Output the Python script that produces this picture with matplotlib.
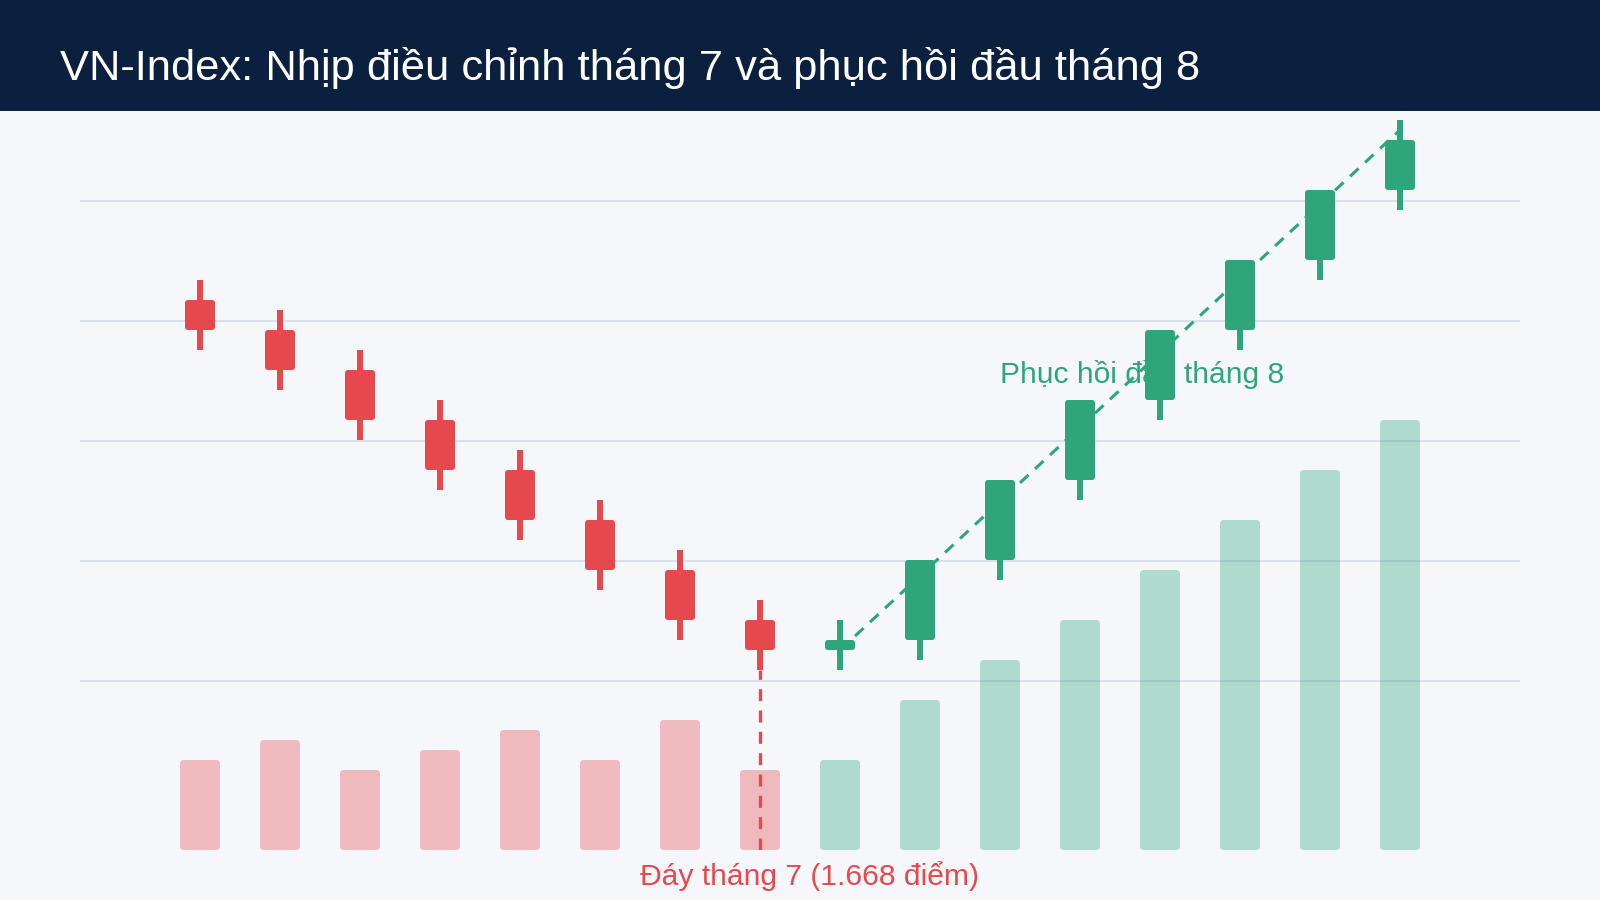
import matplotlib
matplotlib.use("Agg")
import matplotlib.pyplot as plt
import matplotlib.transforms as mtransforms
from matplotlib.patches import FancyBboxPatch, Rectangle

plt.rcParams['font.family'] = ['Liberation Sans', 'DejaVu Sans']

# --- data ---
title = "VN-Index: Nhịp điều chỉnh tháng 7 và phục hồi đầu tháng 8"
opens = [1742, 1736, 1728, 1718, 1708, 1698, 1688, 1678, 1672, 1674, 1690, 1706, 1722, 1736, 1750, 1764]
closes = [1736, 1728, 1718, 1708, 1698, 1688, 1678, 1672, 1674, 1690, 1706, 1722, 1736, 1750, 1764, 1774]
highs = [1746, 1740, 1732, 1722, 1712, 1702, 1692, 1682, 1678, 1690, 1706, 1722, 1736, 1750, 1764, 1778]
lows = [1732, 1724, 1714, 1704, 1694, 1684, 1674, 1668, 1668, 1670, 1686, 1702, 1718, 1732, 1746, 1760]
volumes = [900, 1100, 800, 1000, 1200, 900, 1300, 800, 900, 1500, 1900, 2300, 2800, 3300, 3800, 4300]
grid_levels = [1665.8, 1689.8, 1713.8, 1737.8, 1761.8]
trend_idx = [8, 15]
trend_vals = [1672, 1776]
bottom_idx = 7
bottom_label = "Đáy tháng 7 (1.668 điểm)"
recovery_label = "Phục hồi đầu tháng 8"

RED = "#e5484d"
GREEN = "#2ea57a"
BG = "#f5f7fb"
NAVY = "#0b1f3f"
GRID = "#d9e0ec"

fig = plt.figure(figsize=(16, 9), dpi=100)
fig.patch.set_facecolor(BG)

# header band
fig.patches.append(Rectangle((0, 1 - 111 / 900), 1, 111 / 900, transform=fig.transFigure,
                             facecolor=NAVY, edgecolor="none", zorder=0))
fig.text(60 / 1600, 1 - 80 / 900, title, color="white", fontsize=31.3, va="baseline", ha="left")

ax = fig.add_axes([80 / 1600, 50 / 900, 1440 / 1600, 735 / 900])
ax.set_facecolor("none")
ax.set_xlim(-1.5, 16.5)
ax.set_ylim(1632, 1779)
ax.axis("off")

for g in grid_levels:
    ax.axhline(g, color=GRID, lw=1.5, zorder=0)

# volume bars on their own scale, sharing the x axis
VOL_TOP = 7350
vol_trans = mtransforms.blended_transform_factory(
    ax.transData, mtransforms.Affine2D().scale(1, 1 / VOL_TOP) + ax.transAxes)

x = list(range(len(opens)))
for i in x:
    col = GREEN if closes[i] >= opens[i] else RED
    bar = FancyBboxPatch((i - 0.25, 0), 0.5, volumes[i],
                         boxstyle="round,pad=0,rounding_size=0.05", mutation_aspect=800,
                         transform=vol_trans, facecolor=col, edgecolor="none", alpha=0.35, zorder=1)
    ax.add_patch(bar)

# text sits behind the candles as in the reference
ax.text(10.0, 1725.4, recovery_label, color=GREEN, fontsize=21.6, va="baseline", ha="left", zorder=2)

ax.plot(trend_idx, trend_vals, color=GREEN, lw=2.2, linestyle=(0, (3.8, 2.9)), zorder=3)
ax.vlines(bottom_idx, 1632, lows[bottom_idx], color=RED, lw=2.4, linestyle=(0, (3.6, 2.8)), zorder=3)

# candles
for i in x:
    col = GREEN if closes[i] >= opens[i] else RED
    ax.vlines(i, lows[i], highs[i], color=col, lw=4.3, zorder=4)
    lo = min(opens[i], closes[i])
    h = abs(closes[i] - opens[i])
    body = FancyBboxPatch((i - 0.1875, lo), 0.375, h,
                          boxstyle="round,pad=0,rounding_size=0.0375", mutation_aspect=16,
                          facecolor=col, edgecolor="none", zorder=5)
    ax.add_patch(body)

ax.text(5.5, 1625, bottom_label, color=RED, fontsize=21.6, va="baseline", ha="left", clip_on=False)

fig.savefig("out.png", dpi=100, facecolor=fig.get_facecolor())
